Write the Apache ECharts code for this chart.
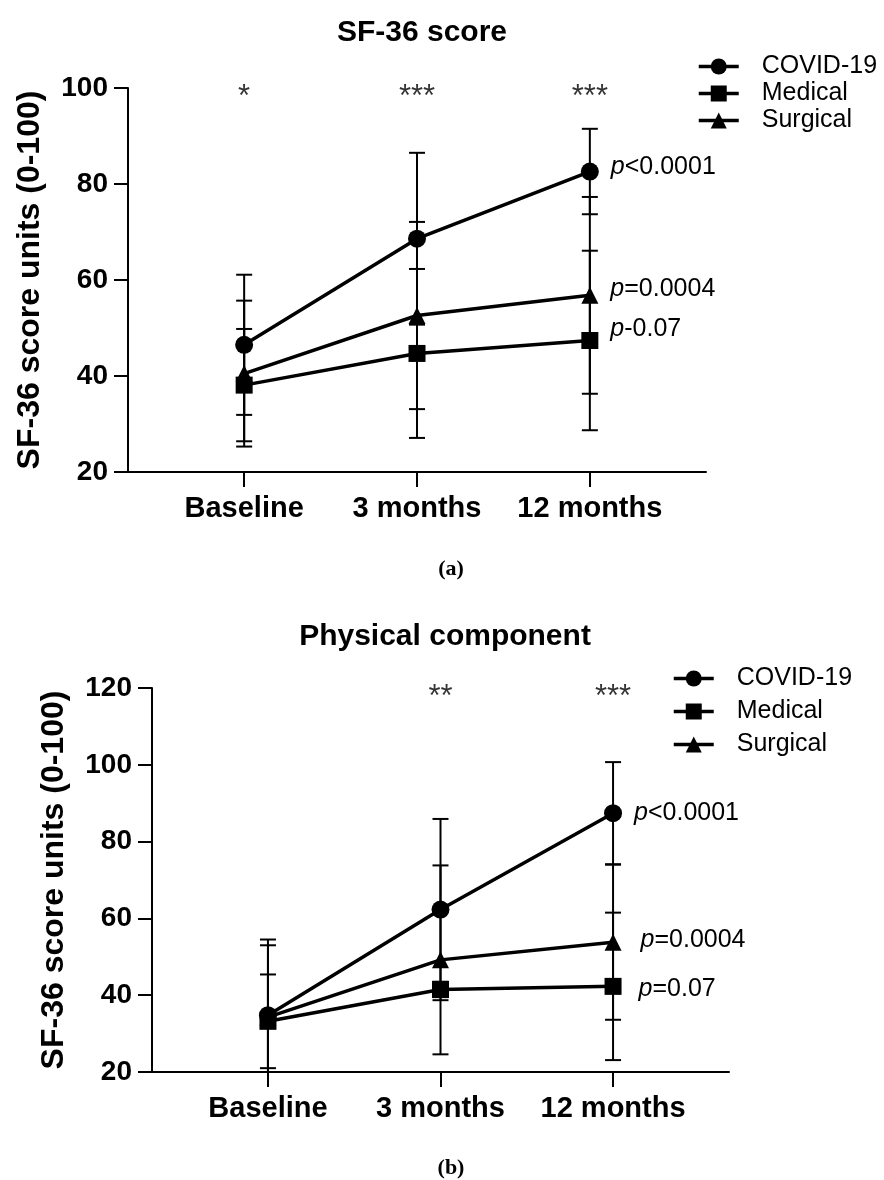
<!DOCTYPE html>
<html>
<head>
<meta charset="utf-8">
<script src="https://cdn.jsdelivr.net/npm/echarts@6/dist/echarts.min.js"></script>
<style>
  html, body { margin: 0; padding: 0; background: #fff; }
  #chart { width: 884px; height: 1180px; }
</style>
</head>
<body>
<div id="chart"></div>
<script>
const timepoints = ['Baseline', '3 months', '12 months']
const groups = ['COVID-19', 'Medical', 'Surgical']
const symbols = ['circle', 'rect', 'triangle']

// (a) SF-36 score
const covidA = [46.5, 68.6, 82.6]
const medicalA = [38.1, 44.7, 47.4]
const surgicalA = [40.5, 52.6, 56.8]
const covidErrA = [14.6, 17.9, 8.9]
const medicalErrA = [11.7, 17.6, 18.7]
const surgicalErrA = [15.2, 19.5, 20.5]
const starsA = ['*', '***', '***']
const pTextA = ['<0.0001', '-0.07', '=0.0004']

// (b) Physical component
const covidB = [34.8, 62.3, 87.4]
const medicalB = [33.2, 41.5, 42.3]
const surgicalB = [34.3, 49.2, 53.8]
const covidErrB = [19.7, 23.6, 13.3]
const medicalErrB = [12.2, 2, 19.2]
const surgicalErrB = [18.7, 24.6, 20.2]
const starsB = ['', '**', '***']
const pTextB = ['<0.0001', '=0.07', '=0.0004']

const FONT = 'Liberation Sans, Arial, sans-serif'

function makeX(gridIndex) {
  return {
    type: 'value',
    gridIndex: gridIndex,
    min: -0.672,
    max: 2.672,
    axisLine: { onZero: false, lineStyle: { color: '#000', width: 2 } },
    axisTick: { customValues: [0, 1, 2], length: 15, lineStyle: { color: '#000', width: 2 } },
    axisLabel: {
      customValues: [0, 1, 2],
      formatter: v => timepoints[v],
      fontFamily: FONT,
      fontSize: 29,
      fontWeight: 'bold',
      color: '#000',
      margin: 22
    },
    splitLine: { show: false }
  }
}

function makeY(gridIndex, max) {
  return {
    type: 'value',
    gridIndex: gridIndex,
    min: 20,
    max: max,
    interval: 20,
    name: 'SF-36 score units (0-100)',
    nameLocation: 'middle',
    nameGap: 82,
    nameTextStyle: { fontFamily: FONT, fontSize: 32, fontWeight: 'bold', color: '#000' },
    axisLine: { show: true, onZero: false, lineStyle: { color: '#000', width: 2 } },
    axisTick: { show: true, length: 14, lineStyle: { color: '#000', width: 2 } },
    axisLabel: { fontFamily: FONT, fontSize: 28, fontWeight: 'bold', color: '#000', margin: 20 },
    splitLine: { show: false }
  }
}

function errorBars(yMin) {
  return function(params, api) {
    const x = api.value(0)
    const lo = api.value(1)
    const hi = api.value(2)
    const top = api.coord([x, hi])
    const bottom = api.coord([x, Math.max(lo, yMin)])
    const half = 8
    const style = { stroke: '#000', lineWidth: 2 }
    const children = [
      { type: 'line', shape: { x1: top[0], y1: top[1], x2: bottom[0], y2: bottom[1] }, style: style },
      { type: 'line', shape: { x1: top[0] - half, y1: top[1], x2: top[0] + half, y2: top[1] }, style: style }
    ]
    if (lo >= yMin) {
      children.push({ type: 'line', shape: { x1: bottom[0] - half, y1: bottom[1], x2: bottom[0] + half, y2: bottom[1] }, style: style })
    }
    return { type: 'group', children: children }
  }
}

const pRich = {
  i: { fontFamily: FONT, fontSize: 25, fontStyle: 'italic', color: '#000' },
  n: { fontFamily: FONT, fontSize: 25, color: '#000' }
}

// one line series per group, p-value text on the 12-month point
function lineSeries(idx, name, values, pText, labelOffset, labelDist) {
  return {
    type: 'line',
    name: name,
    xAxisIndex: idx,
    yAxisIndex: idx,
    symbol: symbols[groups.indexOf(name)],
    symbolSize: name === 'COVID-19' ? 18 : 17,
    z: 3,
    lineStyle: { color: '#000', width: 3.5 },
    itemStyle: { color: '#000' },
    data: values.map((v, i) => {
      if (i !== values.length - 1) return [i, v]
      return {
        value: [i, v],
        label: {
          show: true,
          position: 'right',
          distance: labelDist,
          offset: labelOffset,
          formatter: '{i|p}{n|' + pText + '}',
          rich: pRich
        }
      }
    })
  }
}

function errSeries(idx, yMin, means, errs) {
  const data = []
  means.forEach((m, g) => {
    m.forEach((v, i) => {
      data.push([i, v - errs[g][i], v + errs[g][i]])
    })
  })
  return {
    type: 'custom',
    xAxisIndex: idx,
    yAxisIndex: idx,
    z: 1,
    silent: true,
    renderItem: errorBars(yMin),
    data: data
  }
}

function starSeries(idx, yTop, stars) {
  return {
    type: 'scatter',
    xAxisIndex: idx,
    yAxisIndex: idx,
    symbolSize: 0,
    silent: true,
    data: stars.map((s, i) => [i, yTop]),
    label: {
      show: true,
      position: 'inside',
      offset: [0, 9],
      formatter: p => stars[p.dataIndex],
      fontFamily: FONT,
      fontSize: 31,
      color: '#000'
    }
  }
}

function legend(left, top, gap) {
  return {
    orient: 'vertical',
    left: left,
    top: top,
    padding: 0,
    itemWidth: 40,
    itemHeight: 20,
    itemGap: gap,
    selectedMode: false,
    data: groups,
    lineStyle: { width: 3.5 },
    textStyle: { fontFamily: FONT, fontSize: 25, lineHeight: 25, color: '#000', padding: [0, 0, 0, 18] }
  }
}

const chart = echarts.init(document.getElementById('chart'))
const option = {
  animation: false,
  backgroundColor: '#fff',
  title: [
    { text: 'SF-36 score', left: 417, top: 13, textAlign: 'center',
      textStyle: { fontFamily: FONT, fontSize: 30, fontWeight: 'bold', color: '#000' } },
    { text: 'Physical component', left: 440, top: 617, textAlign: 'center',
      textStyle: { fontFamily: FONT, fontSize: 30, fontWeight: 'bold', color: '#000' } },
    { text: '{n|(}{b|a}{n|)}', left: 446, top: 553, textAlign: 'center',
      textStyle: { rich: {
        n: { fontFamily: 'Liberation Serif, serif', fontSize: 22, color: '#000' },
        b: { fontFamily: 'Liberation Serif, serif', fontSize: 22, fontWeight: 'bold', color: '#000' }
      } } },
    { text: '{n|(}{b|b}{n|)}', left: 446, top: 1152, textAlign: 'center',
      textStyle: { rich: {
        n: { fontFamily: 'Liberation Serif, serif', fontSize: 22, color: '#000' },
        b: { fontFamily: 'Liberation Serif, serif', fontSize: 22, fontWeight: 'bold', color: '#000' }
      } } }
  ],
  legend: [legend(697, 54, 2), legend(672, 666, 8)],
  grid: [
    { left: 128, right: 178, top: 88, bottom: 708 },
    { left: 152, right: 155, top: 688, bottom: 108 }
  ],
  xAxis: [makeX(0), makeX(1)],
  yAxis: [makeY(0, 100), makeY(1, 120)],
  series: [
    errSeries(0, 20, [covidA, medicalA, surgicalA], [covidErrA, medicalErrA, surgicalErrA]),
    lineSeries(0, 'COVID-19', covidA, pTextA[0], [0, -4], 12),
    lineSeries(0, 'Medical', medicalA, pTextA[1], [0, -11], 12),
    lineSeries(0, 'Surgical', surgicalA, pTextA[2], [0, -6], 12),
    starSeries(0, 100, starsA),
    errSeries(1, 20, [covidB, medicalB, surgicalB], [covidErrB, medicalErrB, surgicalErrB]),
    lineSeries(1, 'COVID-19', covidB, pTextB[0], [0, 0], 12),
    lineSeries(1, 'Medical', medicalB, pTextB[1], [0, 3], 17),
    lineSeries(1, 'Surgical', surgicalB, pTextB[2], [0, -2], 19),
    starSeries(1, 120, starsB)
  ]
}
chart.setOption(option)
</script>
</body>
</html>
